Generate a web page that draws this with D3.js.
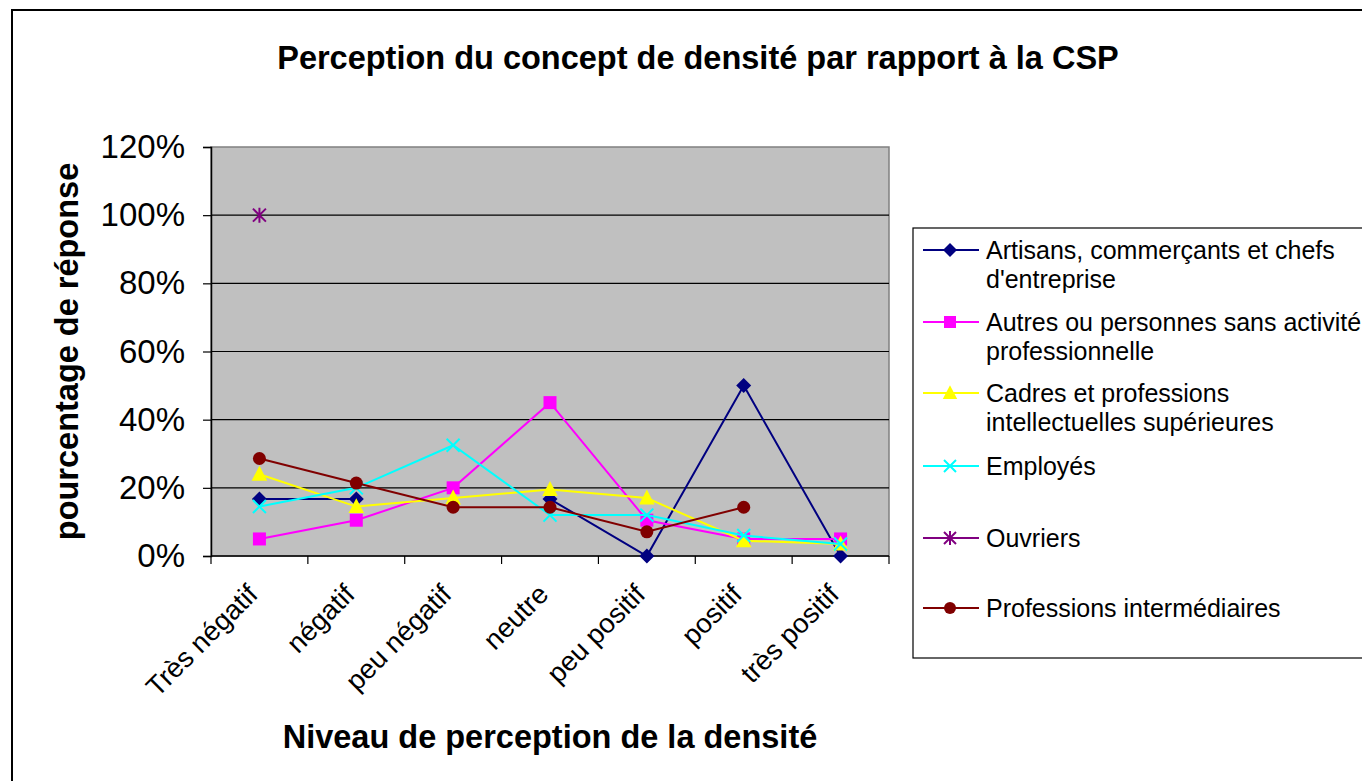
<!DOCTYPE html>
<html>
  <head>
    <meta charset="utf-8">
    <title>Perception du concept de densité</title>
    <script src="https://cdn.jsdelivr.net/npm/d3@7"></script>
    <style>
body { margin: 0; background: #fff; }
text { font-family: "Liberation Sans", Arial, sans-serif; fill: #000; }
.title { font-size: 32.5px; font-weight: bold; }
.axis-title { font-size: 32.5px; font-weight: bold; }
.tick text { font-size: 33px; }
.xlab { font-size: 27.5px; }
.legend text { font-size: 25px; }
    </style>
  </head>
  <body>
    <script>
var categories = ["Très négatif", "négatif", "peu négatif", "neutre", "peu positif", "positif", "très positif"];

var seriesNames = [
  ["Artisans, commerçants et chefs", "d'entreprise"],
  ["Autres ou personnes sans activité", "professionnelle"],
  ["Cadres et professions", "intellectuelles supérieures"],
  ["Employés"],
  ["Ouvriers"],
  ["Professions intermédiaires"]
];

var artisans   = [0.167, 0.167, null, 0.167, 0, 0.50, 0];
var autres     = [0.05, 0.105, 0.20, 0.45, 0.105, 0.05, 0.05];
var cadres     = [0.24, 0.145, 0.17, 0.195, 0.17, 0.045, 0.035];
var employes   = [0.145, 0.20, 0.325, 0.12, 0.12, 0.06, 0.035];
var ouvriers   = [1.0, null, null, null, null, null, null];
var intermed   = [0.286, 0.214, 0.143, 0.143, 0.071, 0.143, null];

var yTicks = [0, 0.2, 0.4, 0.6, 0.8, 1.0, 1.2];

var colors  = ["#000080", "#ff00ff", "#ffff00", "#00ffff", "#800080", "#800000"];
var symbols = ["diamond", "square", "triangle", "x", "star", "circle"];
var series  = [artisans, autres, cadres, employes, ouvriers, intermed];

var width = 1362, height = 781;
var plot = {left: 211, right: 889, top: 147, bottom: 556};

var svg = d3.select("body").append("svg")
  .attr("width", width)
  .attr("height", height);

// outer frame
svg.append("rect")
  .attr("x", 12).attr("y", 10)
  .attr("width", 1400).attr("height", 800)
  .attr("fill", "#fff").attr("stroke", "#000").attr("stroke-width", 2);

svg.append("text")
  .attr("class", "title")
  .attr("x", 698).attr("y", 69)
  .attr("text-anchor", "middle")
  .text("Perception du concept de densité par rapport à la CSP");

var x = d3.scaleBand().domain(categories).range([plot.left, plot.right]);
var y = d3.scaleLinear().domain([0, 1.2]).range([plot.bottom, plot.top]);

// plot area
svg.append("rect")
  .attr("x", plot.left).attr("y", plot.top)
  .attr("width", plot.right - plot.left).attr("height", plot.bottom - plot.top)
  .attr("fill", "#c0c0c0").attr("stroke", "#808080").attr("stroke-width", 1.5);

svg.append("g").selectAll("line")
  .data(yTicks.filter(function(d) { return d > 0 && d < 1.2; }))
  .join("line")
  .attr("x1", plot.left).attr("x2", plot.right)
  .attr("y1", function(d) { return y(d); }).attr("y2", function(d) { return y(d); })
  .attr("stroke", "#000").attr("stroke-width", 1.2);

// y axis
var yAxis = svg.append("g")
  .attr("transform", "translate(" + plot.left + ",0)")
  .call(d3.axisLeft(y).tickValues(yTicks).tickFormat(d3.format(".0%")).tickSize(8).tickPadding(18));
yAxis.select(".domain").attr("stroke", "#000").attr("stroke-width", 1.5);
yAxis.selectAll(".tick line").attr("stroke", "#000").attr("stroke-width", 1.2);
yAxis.selectAll(".tick text").attr("font-size", null).attr("font-family", null);

// x axis
svg.append("line")
  .attr("x1", plot.left).attr("x2", plot.right)
  .attr("y1", plot.bottom).attr("y2", plot.bottom)
  .attr("stroke", "#000").attr("stroke-width", 1.5);

var bounds = categories.map(function(c) { return x(c); }).concat([plot.right]);
svg.append("g").selectAll("line")
  .data(bounds)
  .join("line")
  .attr("x1", function(d) { return d; }).attr("x2", function(d) { return d; })
  .attr("y1", plot.bottom).attr("y2", plot.bottom + 8)
  .attr("stroke", "#000").attr("stroke-width", 1.2);

svg.append("g").selectAll("text")
  .data(categories)
  .join("text")
  .attr("class", "xlab")
  .attr("text-anchor", "end")
  .attr("transform", function(d) {
    return "translate(" + (x(d) + x.bandwidth() / 2) + "," + (plot.bottom + 40) + ") rotate(-45)";
  })
  .text(function(d) { return d; });

svg.append("text")
  .attr("class", "axis-title")
  .attr("x", (plot.left + plot.right) / 2).attr("y", 748)
  .attr("text-anchor", "middle")
  .text("Niveau de perception de la densité");

svg.append("text")
  .attr("class", "axis-title")
  .attr("text-anchor", "middle")
  .attr("transform", "translate(78," + (plot.top + plot.bottom) / 2 + ") rotate(-90)")
  .text("pourcentage de réponse");

// markers
function marker(sel, i, size) {
  var c = colors[i];
  var s = symbols[i];
  var h = size / 2;
  if (s === "diamond") {
    sel.append("path").attr("d", "M0," + (-h - 1) + "L" + (h + 1) + ",0L0," + (h + 1) + "L" + (-h - 1) + ",0Z").attr("fill", c);
  } else if (s === "square") {
    sel.append("rect").attr("x", -h).attr("y", -h)
      .attr("width", size).attr("height", size).attr("fill", c);
  } else if (s === "triangle") {
    sel.append("path").attr("d", "M0," + (-size * 0.65) + "L" + (size * 0.6) + "," + (size * 0.5) + "L" + (-size * 0.6) + "," + (size * 0.5) + "Z").attr("fill", c);
  } else if (s === "circle") {
    sel.append("circle").attr("r", h).attr("fill", c);
  } else if (s === "x") {
    sel.append("path").attr("d", "M" + (-h) + "," + (-h) + "L" + h + "," + h + "M" + (-h) + "," + h + "L" + h + "," + (-h))
      .attr("stroke", c).attr("stroke-width", 2).attr("fill", "none");
  } else if (s === "star") {
    sel.append("path").attr("d", "M" + (-h) + "," + (-h) + "L" + h + "," + h + "M" + (-h) + "," + h + "L" + h + "," + (-h) + "M0," + (-h - 1) + "L0," + (h + 1))
      .attr("stroke", c).attr("stroke-width", 2).attr("fill", "none");
  }
}

var line = d3.line()
  .defined(function(d) { return d != null; })
  .x(function(d, i) { return x(categories[i]) + x.bandwidth() / 2; })
  .y(function(d) { return y(d); });

series.forEach(function(vals, si) {
  var g = svg.append("g");
  g.append("path")
    .attr("d", line(vals))
    .attr("fill", "none")
    .attr("stroke", colors[si])
    .attr("stroke-width", 2);
  vals.forEach(function(v, i) {
    if (v == null) return;
    var m = g.append("g")
      .attr("transform", "translate(" + (x(categories[i]) + x.bandwidth() / 2) + "," + y(v) + ")");
    marker(m, si, 13);
  });
});

// legend
var legend = svg.append("g").attr("class", "legend");
legend.append("rect")
  .attr("x", 913).attr("y", 228)
  .attr("width", 500).attr("height", 430)
  .attr("fill", "#fff").attr("stroke", "#000").attr("stroke-width", 1.2);

var rowY = [250, 322, 393, 466, 538, 608];
seriesNames.forEach(function(lines, i) {
  var g = legend.append("g").attr("transform", "translate(0," + rowY[i] + ")");
  g.append("line").attr("x1", 923).attr("x2", 979).attr("y1", 0).attr("y2", 0)
    .attr("stroke", colors[i]).attr("stroke-width", 2);
  var m = g.append("g").attr("transform", "translate(950,0)");
  marker(m, i, 12);
  lines.forEach(function(t, k) {
    g.append("text")
      .attr("x", 986).attr("y", 9 + k * 29)
      .text(t);
  });
});
    </script>
  </body>
</html>
